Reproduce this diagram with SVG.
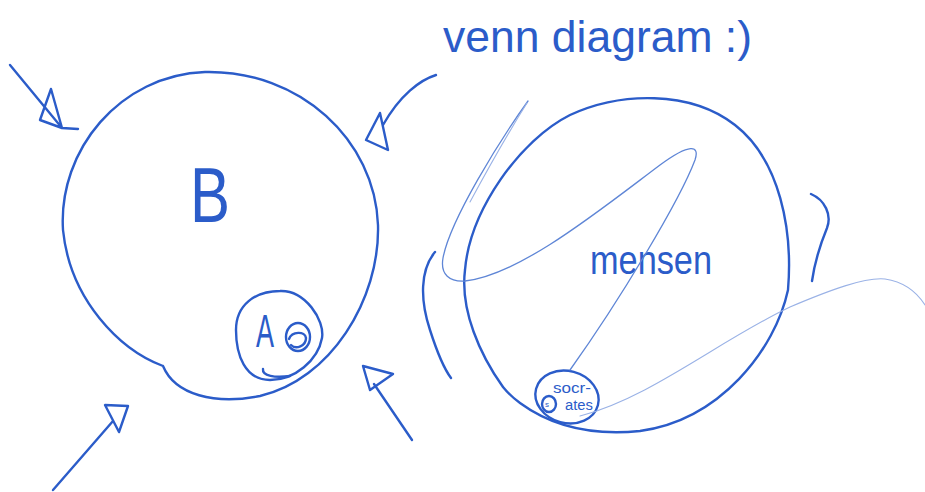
<svg xmlns="http://www.w3.org/2000/svg" width="925" height="492" viewBox="0 0 925 492">
<style>
.ink{fill:none;stroke:#2b5cc9;stroke-width:2.4;stroke-linecap:round;stroke-linejoin:round}
.thin{fill:none;stroke:#5f86d6;stroke-width:1.3;stroke-linecap:round}
.faint{fill:none;stroke:#9ab2e6;stroke-width:1.1;stroke-linecap:round}
.t{fill:#2b5cc9;font-family:"Liberation Sans",sans-serif}
</style>
<rect width="925" height="492" fill="#ffffff"/>
<text class="t" x="443" y="52" font-size="44" textLength="309" lengthAdjust="spacingAndGlyphs">venn diagram :)</text>
<g id="B">
<path class="ink" d="M163,366 C120,350 70,300 63,230 C58,150 120,75 205,72 C300,70 375,140 378,225 C380,300 330,380 260,396 C215,405 175,395 163,366"/>
<text class="t" x="190" y="222" font-size="78" textLength="40" lengthAdjust="spacingAndGlyphs">B</text>
</g>
<g id="A">
<path class="ink" d="M280,291 C305,290 325,320 322,338 C318,360 295,380 270,380 C245,380 236,355 236,330 C236,305 255,291 280,291 Z"/>
<path class="ink" d="M263,369 C262,376 275,378 290,376"/>
<text class="t" x="256" y="347" font-size="46" textLength="18" lengthAdjust="spacingAndGlyphs">A</text>
<ellipse class="ink" cx="298" cy="337" rx="12" ry="14"/>
<path class="ink" d="M289,339 C292,331 305,331 306,338 C306,346 296,350 291,345"/>
</g>
<g id="mensen">
<path class="ink" d="M503,387 C480,355 460,310 465,270 C470,210 520,140 570,115 C620,92 690,90 735,125 C780,160 793,230 788,290 C775,350 720,420 640,431 C590,436 550,425 520,403 C512,397 507,392 503,387"/>
<text class="t" x="590" y="274" font-size="40" textLength="122" lengthAdjust="spacingAndGlyphs">mensen</text>
</g>
<g id="socrates">
<ellipse class="ink" cx="567" cy="397" rx="32" ry="26" transform="rotate(15 567 397)"/>
<ellipse class="ink" cx="549" cy="404" rx="7" ry="8"/>
<text class="t" x="545" y="407" font-size="8">s</text>
<text class="t" x="553" y="393" font-size="14" textLength="38" lengthAdjust="spacingAndGlyphs">socr-</text>
<text class="t" x="565" y="410" font-size="14" textLength="28" lengthAdjust="spacingAndGlyphs">ates</text>
</g>
<g id="connectors">
<path class="ink" d="M10,65 L62,128 L78,129 M62,128 L51,89 L40,120 L62,128"/>
<path class="ink" d="M436,75 C420,80 400,95 383,125 M380,113 L366,140 L388,150 Z"/>
<path class="ink" d="M53,490 L113,421 M105,405 L128,406 L119,432 Z"/>
<path class="ink" d="M412,440 L374,384 M363,366 L393,374 L370,390 Z"/>
<path class="ink" d="M435,252 C420,270 420,300 430,330 C438,355 445,370 451,378"/>
<path class="ink" d="M811,194 C825,200 832,215 827,228 C820,245 815,260 812,281"/>
<path class="thin" d="M528,101 C500,140 450,220 443,258 C440,275 450,282 465,281 C520,275 600,210 660,165 C690,143 700,145 695,160 C680,200 620,300 570,370"/>
<path class="faint" d="M527,103 C510,130 490,165 470,202"/>
<path class="faint" d="M580,416 C650,398 720,340 790,307 C830,290 865,277 885,279 C905,282 918,294 925,305"/>
</g>
</svg>
